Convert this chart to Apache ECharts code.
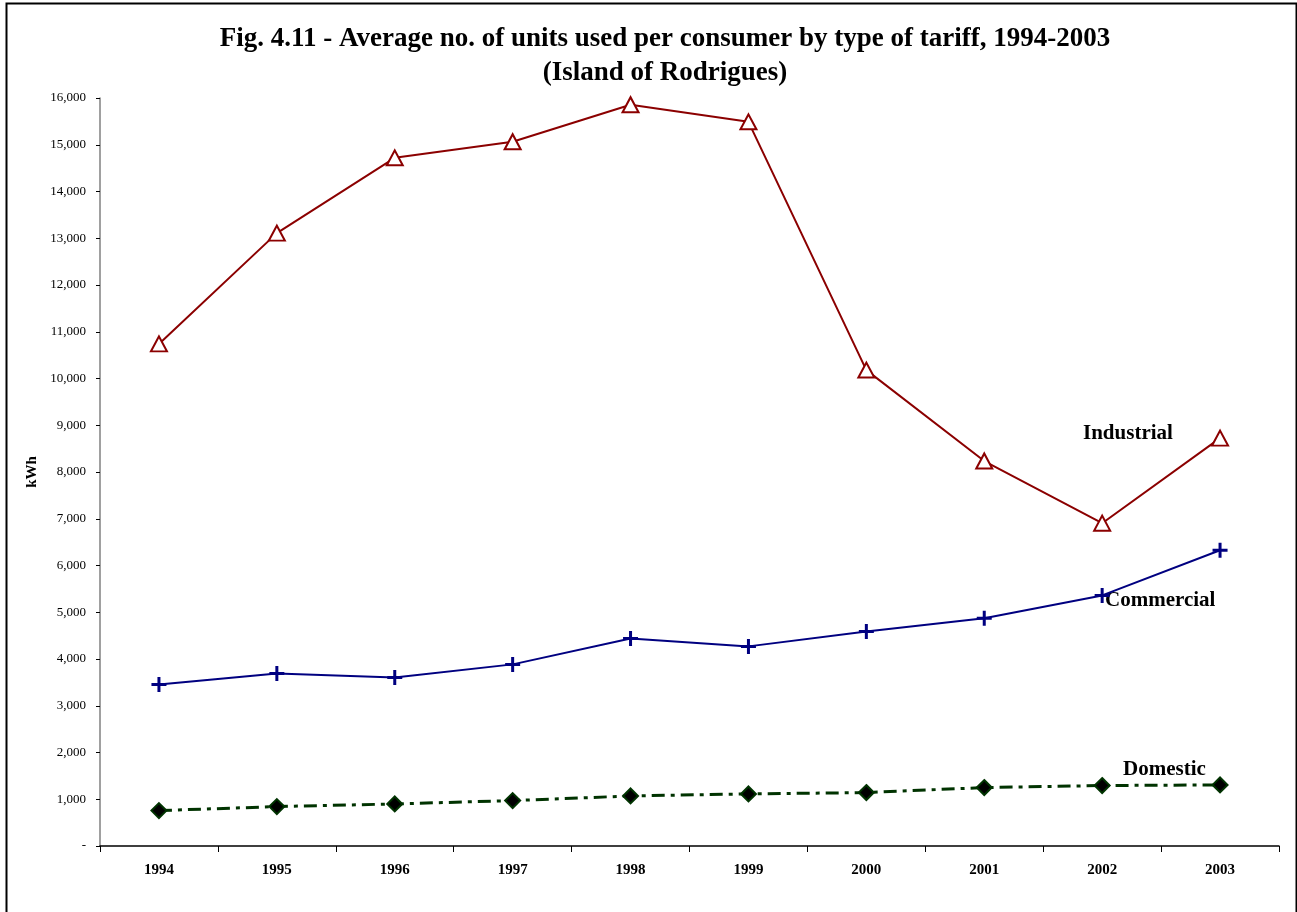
<!DOCTYPE html>
<html>
<head>
<meta charset="utf-8">
<script src="https://cdn.jsdelivr.net/npm/echarts@6/dist/echarts.min.js"></script>
<style>
  html, body { margin: 0; padding: 0; background: #fff; }
  #chart { width: 1297px; height: 912px; }
</style>
</head>
<body>
<div id="chart"></div>
<script>
// years on the x axis
var years = ['1994', '1995', '1996', '1997', '1998', '1999', '2000', '2001', '2002', '2003'];
// average kWh per consumer
var industrial = [10740, 13110, 14720, 15065, 15855, 15490, 10180, 8235, 6905, 8725];
var commercial = [3455, 3690, 3605, 3885, 4440, 4270, 4590, 4870, 5360, 6325];
var domestic = [757, 843, 900, 971, 1071, 1114, 1143, 1250, 1293, 1307];
// y axis range
var yMin = 0, yMax = 16000, yStep = 1000;

var serif = '"Liberation Serif", "DejaVu Serif", serif';
var plusPath = 'path://M4,0 H6 V4 H10 V6 H6 V10 H4 V6 H0 V4 H4 Z';

var myChart = echarts.init(document.getElementById('chart'));

var option = {
  backgroundColor: '#fff',
  animation: false,
  title: {
    text: 'Fig. 4.11 - Average no. of units used per consumer by type of tariff, 1994-2003\n(Island of Rodrigues)',
    left: 660,
    textAlign: 'center',
    top: 17,
    textStyle: {
      fontFamily: serif,
      fontWeight: 'bold',
      fontSize: 27,
      lineHeight: 34,
      color: '#000'
    }
  },
  grid: {
    left: 100,
    right: 18,
    top: 98,
    bottom: 66
  },
  xAxis: {
    type: 'category',
    data: years,
    boundaryGap: true,
    axisLine: { lineStyle: { color: '#000', width: 1.5 } },
    axisTick: { show: true, length: 6, lineStyle: { color: '#000' } },
    axisLabel: {
      fontFamily: serif,
      fontWeight: 'bold',
      fontSize: 15,
      color: '#000',
      margin: 17
    },
    splitLine: { show: false }
  },
  yAxis: {
    type: 'value',
    min: yMin,
    max: yMax,
    interval: yStep,
    name: 'kWh',
    nameLocation: 'middle',
    nameGap: 60,
    nameRotate: 90,
    nameTextStyle: {
      fontFamily: serif,
      fontWeight: 'bold',
      fontSize: 15,
      color: '#000'
    },
    axisLine: { show: true, lineStyle: { color: '#808080', width: 1.5 } },
    axisTick: { show: true, length: 4, lineStyle: { color: '#000' } },
    axisLabel: {
      fontFamily: serif,
      fontSize: 13,
      color: '#000',
      margin: 14,
      formatter: function (v) {
        if (v === 0) return '-';
        return v.toString().replace(/\B(?=(\d{3})+(?!\d))/g, ',');
      }
    },
    splitLine: { show: false }
  },
  series: [
    {
      name: 'Industrial',
      type: 'line',
      data: industrial,
      symbol: 'triangle',
      symbolSize: [16, 15],
      lineStyle: { color: '#8B0000', width: 2 },
      itemStyle: { color: '#fff', borderColor: '#8B0000', borderWidth: 2 }
    },
    {
      name: 'Commercial',
      type: 'line',
      data: commercial,
      symbol: plusPath,
      symbolSize: 15,
      lineStyle: { color: '#000080', width: 2 },
      itemStyle: { color: '#000080', borderWidth: 0 }
    },
    {
      name: 'Domestic',
      type: 'line',
      data: domestic,
      symbol: 'diamond',
      symbolSize: 15,
      lineStyle: { color: '#003300', width: 3, type: [13, 6, 4, 6] },
      itemStyle: { color: '#000', borderColor: '#003300', borderWidth: 2 }
    }
  ],
  graphic: [
    {
      type: 'rect',
      left: 4,
      top: 1,
      shape: { width: 1290, height: 920 },
      style: { fill: 'none', stroke: '#000', lineWidth: 2 },
      silent: true
    },
    {
      type: 'text',
      left: 1083,
      top: 423,
      style: { text: 'Industrial', font: 'bold 21px ' + serif, fill: '#000' }
    },
    {
      type: 'text',
      left: 1105,
      top: 590,
      style: { text: 'Commercial', font: 'bold 21px ' + serif, fill: '#000' }
    },
    {
      type: 'text',
      left: 1123,
      top: 759,
      style: { text: 'Domestic', font: 'bold 21px ' + serif, fill: '#000' }
    }
  ]
};

myChart.setOption(option);
window.addEventListener('resize', function () {
  myChart.resize();
});
</script>
</body>
</html>
